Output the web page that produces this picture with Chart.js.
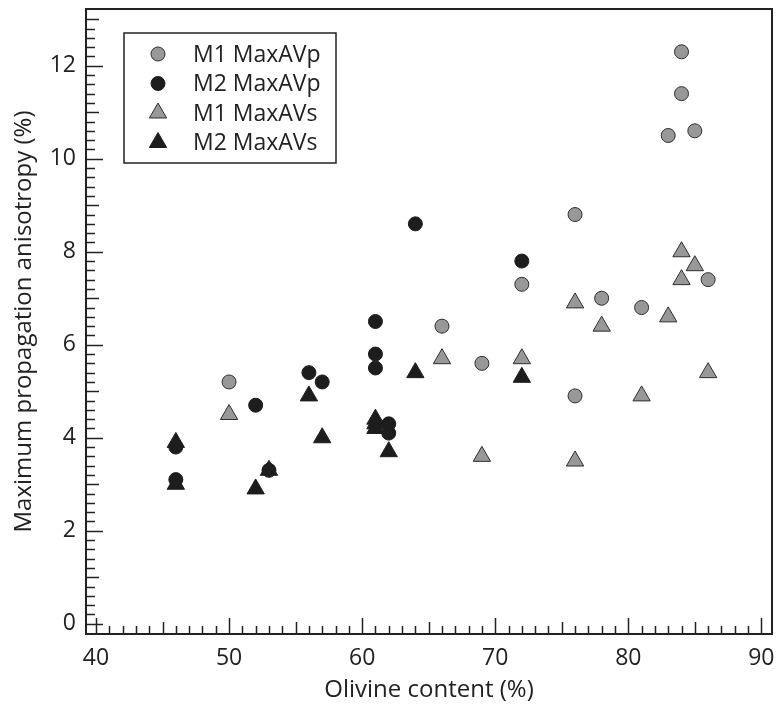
<!DOCTYPE html>
<html>
<head>
<meta charset="utf-8">
<script src="https://cdn.jsdelivr.net/npm/chart.js@4/dist/chart.umd.min.js"></script>
<style>
  html, body { margin: 0; padding: 0; background: #fff; }
  #wrap { width: 778px; height: 705px; }
</style>
</head>
<body>
<div id="wrap"><canvas id="chart" width="778" height="705"></canvas></div>
<script>
// Datos
const m1Olivine = [50, 66, 69, 72, 76, 76, 78, 81, 83, 84, 84, 85, 86];
const m1MaxAVp = [5.2, 6.4, 5.6, 7.3, 8.8, 4.9, 7.0, 6.8, 10.5, 12.3, 11.4, 10.6, 7.4];
const m1MaxAVs = [4.5, 5.7, 3.6, 5.7, 6.9, 3.5, 6.4, 4.9, 6.6, 8.0, 7.4, 7.7, 5.4];

const m2OlivineP = [46, 46, 52, 53, 56, 57, 61, 61, 61, 62, 62, 64, 72];
const m2MaxAVp = [3.8, 3.1, 4.7, 3.3, 5.4, 5.2, 6.5, 5.8, 5.5, 4.3, 4.1, 8.6, 7.8];
const m2OlivineS = [46, 46, 52, 53, 56, 57, 61, 61, 61, 62, 64, 72];
const m2MaxAVs = [3.9, 3.0, 2.9, 3.3, 4.9, 4.0, 4.4, 4.3, 4.2, 3.7, 5.4, 5.3];

const xTickLabels = [40, 50, 60, 70, 80, 90];
const yTickLabels = [0, 2, 4, 6, 8, 10, 12];

const seriesNames = ['M1 MaxAVp', 'M2 MaxAVp', 'M1 MaxAVs', 'M2 MaxAVs'];

const INK = '#222222';
const GREY = '#98989b';
const BLACK = '#1d1d1d';
const FONT = '"Open Sans"';

// márgenes del área de trazado
const AREA = { left: 86, right: 6, top: 9, bottom: 71 };

function toPoints(xs, ys) {
    return xs.map((x, i) => ({ x: x, y: ys[i] }));
}

function markerStyle(shape, fill, border, radius) {
    return {
        pointStyle: shape,
        backgroundColor: fill,
        borderColor: border,
        pointBackgroundColor: fill,
        pointBorderColor: border,
        pointBorderWidth: 1,
        pointRadius: radius,
        pointHoverRadius: radius,
        showLine: false
    };
}

// Fijar el área de trazado (Chart.js reserva espacio extra para la etiqueta "90")
const fixedArea = {
    id: 'fixedArea',
    afterLayout(chart) {
        const a = chart.chartArea;
        const { x, y } = chart.scales;
        a.left = AREA.left;
        a.right = chart.width - AREA.right;
        a.top = AREA.top;
        a.bottom = chart.height - AREA.bottom;
        a.width = a.right - a.left;
        a.height = a.bottom - a.top;
        x.left = a.left; x.right = a.right; x.width = a.width;
        x.top = a.bottom; x.bottom = chart.height; x.height = AREA.bottom;
        y.left = 0; y.right = a.left; y.width = a.left;
        y.top = a.top; y.bottom = a.bottom; y.height = a.height;
        x.configure();
        y.configure();
    }
};

// Marcas de escala hacia adentro + marco superior/derecho
const frameTicks = {
    id: 'frameTicks',
    beforeDatasetsDraw(chart) {
        const { ctx, chartArea: a, scales: { x, y } } = chart;
        ctx.save();
        ctx.strokeStyle = INK;
        ctx.lineWidth = 1.5;
        ctx.beginPath();
        for (let v = 40; v <= 90; v++) {
            const px = Math.round(x.getPixelForValue(v)) + 0.5;
            const len = v % 10 === 0 ? 16 : (v % 5 === 0 ? 12 : 8);
            ctx.moveTo(px, a.bottom);
            ctx.lineTo(px, a.bottom - len);
        }
        for (let i = 0; i <= 65; i++) {
            const v = i * 0.2;
            const py = Math.round(y.getPixelForValue(v)) + 0.5;
            const len = i % 10 === 0 ? 17 : (i % 5 === 0 ? 13 : 9);
            ctx.moveTo(a.left, py);
            ctx.lineTo(a.left + len, py);
        }
        ctx.stroke();
        ctx.lineWidth = 2;
        ctx.beginPath();
        ctx.moveTo(a.left, a.top);
        ctx.lineTo(a.right, a.top);
        ctx.lineTo(a.right, a.bottom);
        ctx.stroke();
        ctx.restore();
    }
};

// Leyenda con recuadro dentro del área
const boxLegend = {
    id: 'boxLegend',
    afterDraw(chart) {
        const { ctx, chartArea: a } = chart;
        const bx = a.left + 38, by = a.top + 24, bw = 212, bh = 130;
        ctx.save();
        ctx.fillStyle = '#fff';
        ctx.fillRect(bx, by, bw, bh);
        ctx.strokeStyle = INK;
        ctx.lineWidth = 1.5;
        ctx.strokeRect(bx, by, bw, bh);
        ctx.font = '23px ' + FONT;
        ctx.textBaseline = 'middle';
        ctx.textAlign = 'left';
        chart.data.datasets.forEach((ds, i) => {
            const cx = bx + 34;
            const cy = by + 21 + i * 29.5;
            ctx.fillStyle = ds.pointBackgroundColor;
            ctx.strokeStyle = ds.pointBorderColor;
            ctx.lineWidth = 1;
            Chart.helpers.drawPoint(ctx, {
                pointStyle: ds.pointStyle,
                radius: ds.pointRadius,
                borderWidth: 1,
                rotation: 0
            }, cx, cy);
            ctx.fillStyle = INK;
            ctx.fillText(ds.label, bx + 69, cy + 1);
        });
        ctx.restore();
    }
};

const ctx = document.getElementById('chart').getContext('2d');
new Chart(ctx, {
    type: 'scatter',
    data: {
        datasets: [
            Object.assign({ label: seriesNames[0], data: toPoints(m1Olivine, m1MaxAVp) },
                markerStyle('circle', GREY, '#2e2e2e', 7)),
            Object.assign({ label: seriesNames[1], data: toPoints(m2OlivineP, m2MaxAVp) },
                markerStyle('circle', BLACK, BLACK, 7)),
            Object.assign({ label: seriesNames[2], data: toPoints(m1Olivine, m1MaxAVs) },
                markerStyle('triangle', GREY, '#2e2e2e', 10)),
            Object.assign({ label: seriesNames[3], data: toPoints(m2OlivineS, m2MaxAVs) },
                markerStyle('triangle', BLACK, BLACK, 10))
        ]
    },
    options: {
        responsive: false,
        animation: false,
        layout: { padding: { top: 9, right: 6, left: 0, bottom: 0 } },
        plugins: {
            legend: { display: false },
            tooltip: { enabled: false }
        },
        scales: {
            x: {
                type: 'linear',
                min: 39.25,
                max: 90.8,
                afterBuildTicks: s => { s.ticks = xTickLabels.map(v => ({ value: v })); },
                afterFit: s => { s.height = 71; },
                grid: { display: false, drawTicks: false },
                border: { display: true, color: INK, width: 2 },
                ticks: { color: INK, padding: 11, font: { family: FONT, size: 23 } },
                title: {
                    display: true,
                    text: 'Olivine content (%)',
                    color: INK,
                    font: { family: FONT, size: 24 },
                    padding: { top: 0, bottom: 0 }
                }
            },
            y: {
                type: 'linear',
                min: -0.22,
                max: 13.22,
                afterBuildTicks: s => { s.ticks = yTickLabels.map(v => ({ value: v })); },
                afterFit: s => { s.width = 86; },
                grid: { display: false, drawTicks: false },
                border: { display: true, color: INK, width: 2 },
                ticks: { color: INK, padding: 10, font: { family: FONT, size: 23 } },
                title: {
                    display: true,
                    text: 'Maximum propagation anisotropy (%)',
                    color: INK,
                    font: { family: FONT, size: 24 },
                    padding: { top: 10, bottom: 0 }
                }
            }
        }
    },
    plugins: [fixedArea, frameTicks, boxLegend]
});
</script>
</body>
</html>
